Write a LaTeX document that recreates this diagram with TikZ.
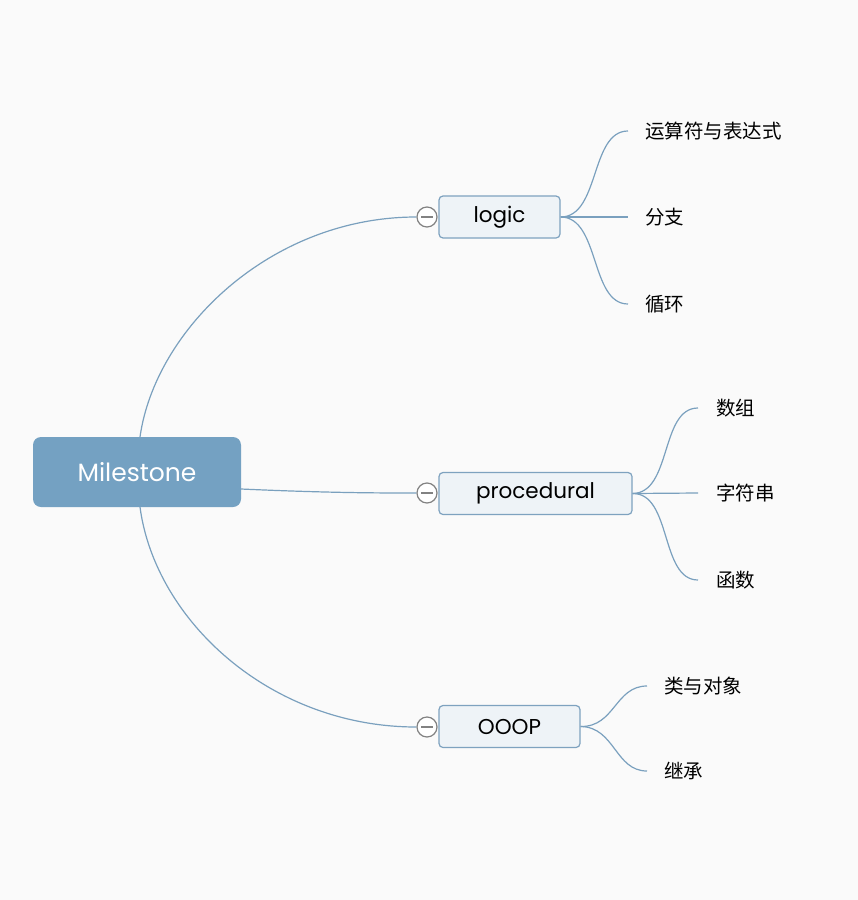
\documentclass[tikz,border=0pt]{standalone}
\usepackage{fontspec}
\setmainfont{Poppins}
\newfontfamily\cjk{Noto Sans CJK SC}
\definecolor{bg}{RGB}{250,250,250}
\definecolor{rootfill}{RGB}{116,161,194}
\definecolor{subfill}{RGB}{238,243,247}
\definecolor{subdraw}{RGB}{126,162,191}
\definecolor{linec}{RGB}{122,160,190}
\definecolor{knob}{RGB}{130,130,130}
\tikzset{
  rootbox/.style={draw=none,fill=rootfill,rounded corners=8pt,minimum width=208pt,minimum height=70pt,text=white,font=\fontsize{25}{28}\selectfont,inner sep=0pt},
  subbox/.style={draw=subdraw,line width=1.2pt,fill=subfill,rounded corners=4pt,minimum height=42pt,font=\fontsize{21.5}{24}\selectfont,inner sep=0pt},
  leaf/.style={anchor=west,font=\cjk\fontsize{19.5}{22}\selectfont,inner sep=0pt},
  knobc/.style={draw=knob,fill=white,circle,minimum size=20pt,inner sep=0pt,line width=1.2pt},
  conn/.style={draw=linec,line width=1.2pt},
}
\begin{document}
\begin{tikzpicture}[x=1pt,y=-1pt]
\fill[bg] (0,0) rectangle (858,900);
\useasboundingbox (0,0) rectangle (858,900);
% root
\node[rootbox] (root) at (137,472) {Milestone};
% subtopics
\node[subbox,minimum width=121pt] (logic) at (499.5,217) {logic};
\node[subbox,minimum width=193pt] (proc) at (535.5,493.5) {procedural};
\node[subbox,minimum width=141pt] (ooop) at (509.5,726.5) {OOOP};
% knobs
\node[knobc] (k1) at (427,217) {};
\node[knobc] (k2) at (427,493) {};
\node[knobc] (k3) at (427,727) {};
\foreach \k in {k1,k2,k3}{\draw[knob,line width=1.2pt] ([xshift=-6pt]\k.center) -- ([xshift=6pt]\k.center);}
% main connectors
\coordinate (rt) at (140,437);
\coordinate (rb) at (140,507);
\coordinate (rr) at (241,489);
\draw[conn] (rt) .. controls (155,330) and (270,217) .. (k1.west);
\draw[conn] (rr) .. controls (330,493) and (380,493) .. (k2.west);
\draw[conn] (rb) .. controls (155,620) and (270,727) .. (k3.west);
% leaves logic
\coordinate (l1) at (628,131);
\coordinate (l2) at (628,217);
\coordinate (l3) at (628,304);
\node[leaf] (t1) at (645,131) {运算符与表达式};
\node[leaf] (t2) at (645,217) {分支};
\node[leaf] (t3) at (645,304) {循环};
\draw[conn] (logic.east) .. controls (600,217) and (590,131) .. (l1);
\draw[conn] (logic.east) -- (l2);
\draw[conn] (logic.east) .. controls (600,217) and (590,304) .. (l3);
% leaves procedural
\coordinate (p1) at (698,408);
\coordinate (p2) at (698,493);
\coordinate (p3) at (698,580);
\node[leaf] (u1) at (716,408) {数组};
\node[leaf] (u2) at (716,493) {字符串};
\node[leaf] (u3) at (716,580) {函数};
\draw[conn] (proc.east) .. controls (672,493) and (660,408) .. (p1);
\draw[conn] (proc.east) -- (p2);
\draw[conn] (proc.east) .. controls (672,493) and (660,580) .. (p3);
% leaves OOOP
\coordinate (o1) at (647,686);
\coordinate (o2) at (647,771);
\node[leaf] (v1) at (664,686) {类与对象};
\node[leaf] (v2) at (664,771) {继承};
\draw[conn] (ooop.east) .. controls (615,727) and (615,686) .. (o1);
\draw[conn] (ooop.east) .. controls (615,727) and (615,771) .. (o2);
\end{tikzpicture}
\end{document}
